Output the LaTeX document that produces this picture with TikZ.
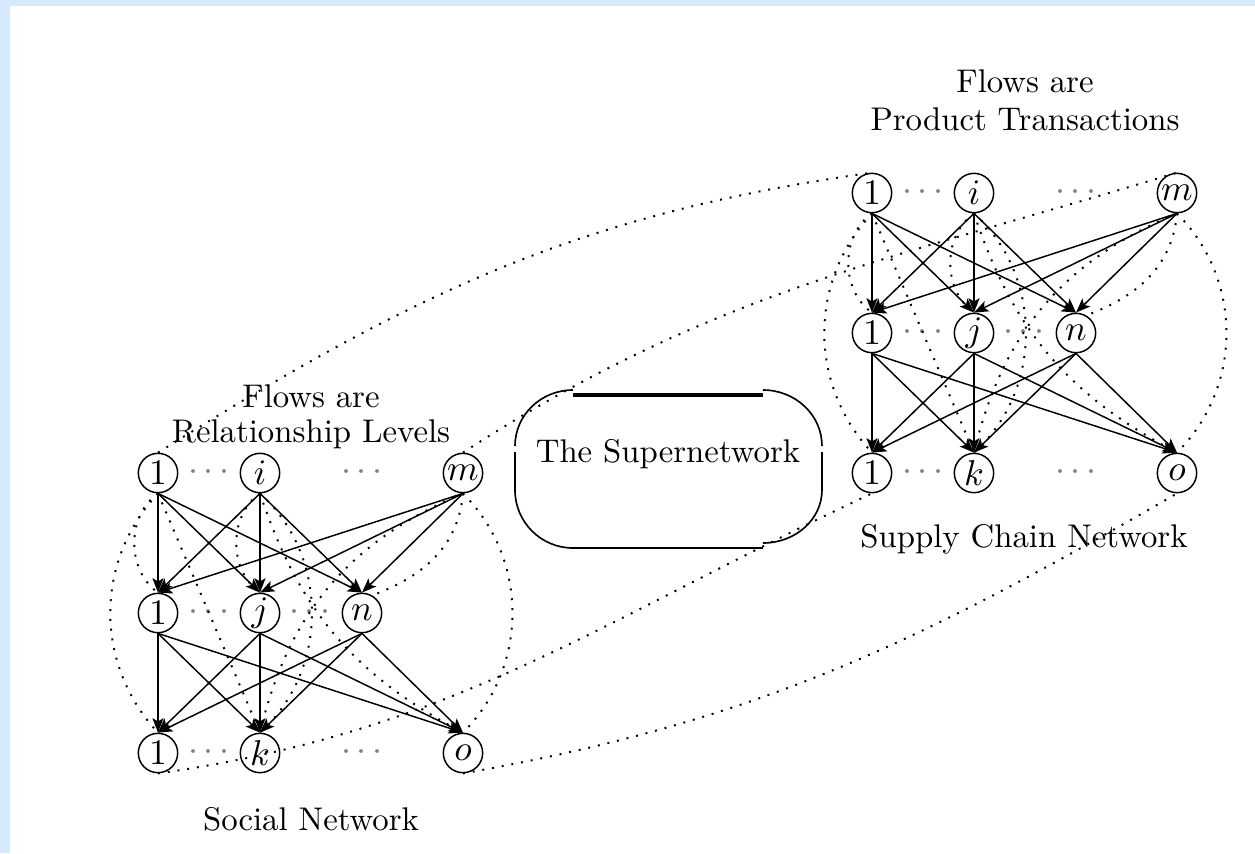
\documentclass[tikz,border=0pt]{standalone}
\usetikzlibrary{arrows.meta}
\definecolor{bgblue}{RGB}{214,233,252}
\tikzset{
  nd/.style={circle,draw,line width=0.45pt,minimum size=12pt,inner sep=0pt,font=\fontsize{11}{13}\selectfont},
  arr/.style={-{Stealth[length=4.4pt,width=3.4pt,inset=1pt]},line width=0.45pt},
  dotline/.style={line width=0.6pt,dash pattern=on 0.6pt off 2.4pt},
  cdt/.style={text=black!50,inner sep=0pt,font=\fontsize{11}{13}\selectfont},
  lbl/.style={anchor=base,inner sep=0pt,font=\fontsize{10}{12}\selectfont},
  boxline/.style={line width=0.5pt}
}
\newcommand{\mynet}[3]{%
  \begin{scope}[shift={(#2,#3)}]
    \node[nd] (#1t1) at (0,0) {$1$};
    \node[nd] (#1ti) at (102,0) {$i$};
    \node[nd] (#1tm) at (305,0) {$m$};
    \node[nd] (#1m1) at (0,-140) {$1$};
    \node[nd] (#1mj) at (102,-140) {$j$};
    \node[nd] (#1mn) at (204,-140) {$n$};
    \node[nd] (#1b1) at (0,-280) {$1$};
    \node[nd] (#1bk) at (102,-280) {$k$};
    \node[nd] (#1bo) at (305,-280) {$o$};
    \node[cdt] (#1d1) at (51,0) {$\cdots$};
    \node[cdt] (#1d2) at (204,0) {$\cdots$};
    \node[cdt] (#1d3) at (51,-140) {$\cdots$};
    \node[cdt] (#1d4) at (152,-140) {$\cdots$};
    \node[cdt] (#1d5) at (51,-280) {$\cdots$};
    \node[cdt] (#1d6) at (204,-280) {$\cdots$};
  \end{scope}
  \foreach \a in {t1,ti,tm}{\foreach \b in {m1,mj,mn}{\draw[arr] (#1\a.south) -- (#1\b.north);}}
  \foreach \a in {m1,mj,mn}{\foreach \b in {b1,bk,bo}{\draw[arr] (#1\a.south) -- (#1\b.north);}}
  \draw[dotline] (#1t1.south) to[bend right=55] (#1m1.north);
  \draw[dotline] (#1ti.south) to[bend right=55] (#1mj.north);
  \draw[dotline] (#1tm.south) to[out=-95,in=20] (#1mn.60);
  \draw[dotline] (#1t1.south) to[bend right=43] (#1b1.north);
  \draw[dotline] (#1tm.south) to[bend left=45] (#1bo.north);
  \draw[dotline] (#1t1.south) -- (#1bk.north);
  \draw[dotline] (#1ti.south) to[bend left=48] (#1bk.north);
  \draw[dotline] (#1ti.south) to[bend right=22] (#1bo.north);
  \draw[dotline] (#1tm.south) to[bend right=27] (#1bk.north);
}
\begin{document}
\begin{tikzpicture}[x=0.305pt,y=0.305pt]
  \fill[white] (0,0) rectangle (1255,-853);
  \fill[bgblue] (0,0) rectangle (10,-853);
  \fill[bgblue] (0,0) rectangle (1255,-6);
  \useasboundingbox (0,0) rectangle (1255,-853);

  \mynet{L}{158}{-473}
  \mynet{R}{872}{-193}

  % labels
  \node[lbl] (fl1) at (311,-407) {Flows are};
  \node[lbl] (fl2) at (311,-442) {Relationship Levels};
  \node[lbl] (soc) at (311,-830) {Social Network};
  \node[lbl] (fr1) at (1025,-92) {Flows are};
  \node[lbl] (fr2) at (1025,-130) {Product Transactions};
  \node[lbl] (sc) at (1024,-547) {Supply Chain Network};
  \node[lbl] (sup) at (668,-462) {The Supernetwork};

  % supernetwork box
  \draw[line width=1.3pt] (573,-395) -- (763,-395);
  \draw[boxline] (573,-548) -- (763,-548);
  \draw[boxline] (573,-390) arc[start angle=90,end angle=180,x radius=58,y radius=56];
  \draw[boxline] (515,-452) -- (515,-490);
  \draw[boxline] (515,-490) arc[start angle=180,end angle=270,x radius=58,y radius=58];
  \draw[boxline] (763,-390) arc[start angle=90,end angle=0,x radius=59,y radius=56];
  \draw[boxline] (822,-452) -- (822,-490);
  \draw[boxline] (822,-490) arc[start angle=0,end angle=-90,x radius=59,y radius=53];

  % inter-network connectors
  \draw[dotline] (Lt1.north) to[out=32,in=188] (Rt1.north);
  \draw[dotline] (Ltm.north) to[out=33,in=197] (Rtm.north);
  \draw[dotline] (Lb1.south) to[out=8,in=205] (Rb1.south);
  \draw[dotline] (Lbo.south) to[out=10,in=210] (Rbo.south);
\end{tikzpicture}
\end{document}
